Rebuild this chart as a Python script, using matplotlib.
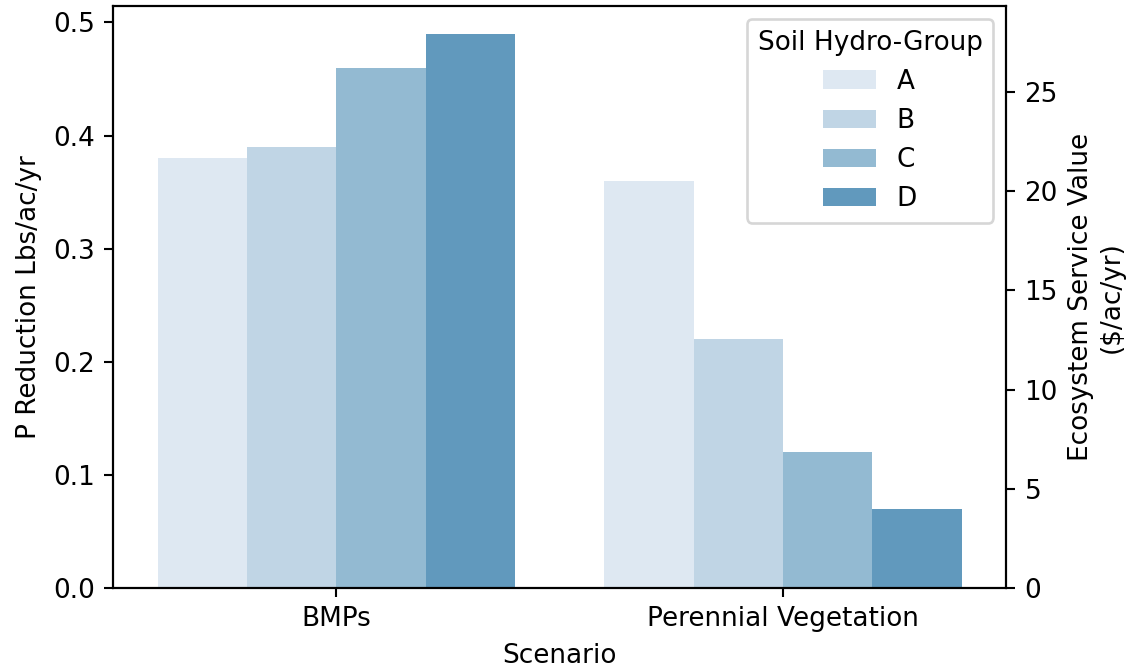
import numpy as np
import matplotlib
matplotlib.use('Agg')
import matplotlib.pyplot as plt

#datos
escenarios = ['BMPs', 'Perennial Vegetation']
grupos = ['A', 'B', 'C', 'D']
p_reduccion = {
    'A': [0.38, 0.36],
    'B': [0.39, 0.22],
    'C': [0.46, 0.12],
    'D': [0.49, 0.07],
}
colores = ['#dee8f2', '#c0d5e5', '#93bad2', '#6199bd']
valor_por_lb = 57.0

#grafica
dpi = 189
fig = plt.figure(figsize=(1128 / dpi, 672 / dpi), dpi=dpi)
ax = fig.add_axes([0.1002, 0.125, 0.7918, 0.866])

x = np.arange(len(escenarios))
ancho = 0.8 / len(grupos)
for i, g in enumerate(grupos):
    pos = x - 0.4 + ancho * (i + 0.5)
    ax.bar(pos, p_reduccion[g], width=ancho, color=colores[i], label=g)

ax.set_xticks(x)
ax.set_xticklabels(escenarios)
ax.set_xlim(-0.5, 1.5)
ymax = max(max(v) for v in p_reduccion.values()) * 1.05
ax.set_ylim(0, ymax)
ax.set_xlabel('Scenario')
ax.set_ylabel('P Reduction Lbs/ac/yr')
ax.legend(title='Soil Hydro-Group', loc='upper right')

ax2 = ax.twinx()
ax2.set_ylim(0, ymax * valor_por_lb)
ax2.set_ylabel('Ecosystem Service Value\n($/ac/yr)')

fig.savefig('out.png', dpi=dpi)
